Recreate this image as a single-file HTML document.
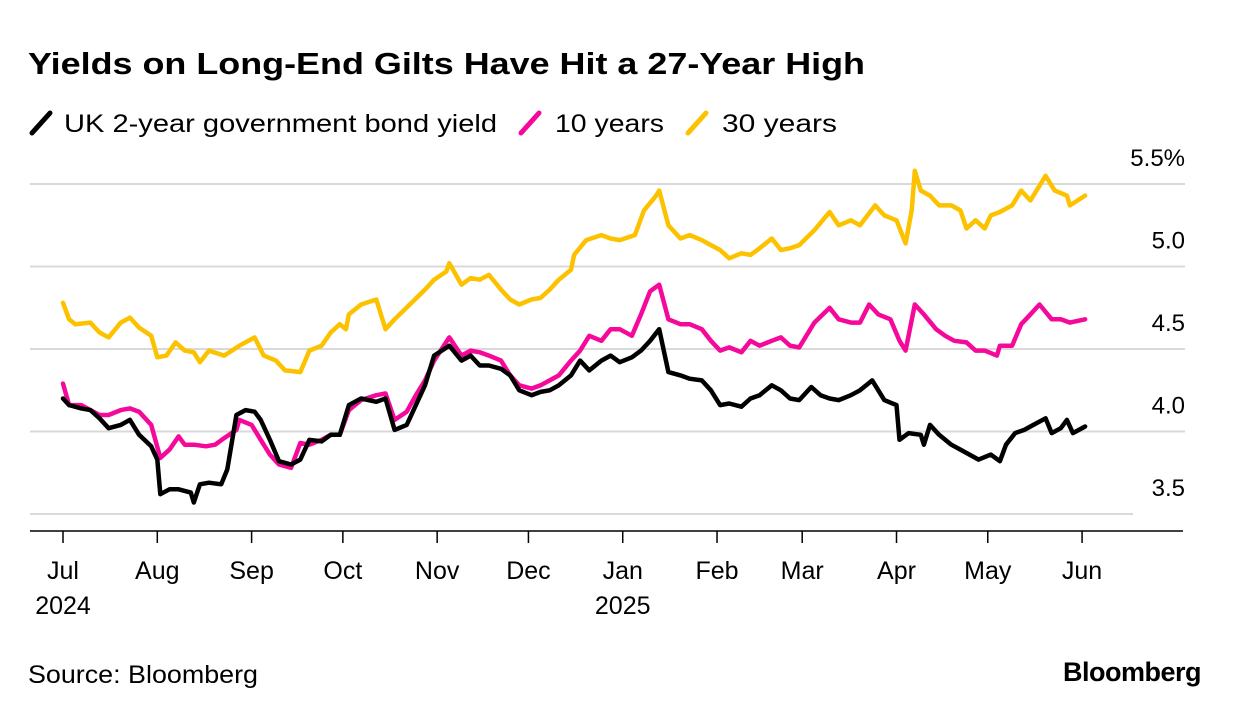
<!DOCTYPE html>
<html><head><meta charset="utf-8"><style>
body{margin:0;background:#fff;width:1240px;height:716px;overflow:hidden;font-family:"Liberation Sans",sans-serif;}
</style></head><body>
<svg width="1240" height="716" xmlns="http://www.w3.org/2000/svg">
<text x="28" y="74" font-size="31" font-weight="bold" fill="#000" textLength="837" lengthAdjust="spacingAndGlyphs">Yields on Long-End Gilts Have Hit a 27-Year High</text>
<g font-size="25" fill="#000">
<line x1="32" y1="133" x2="50" y2="113" stroke="#000" stroke-width="5" stroke-linecap="round"/>
<text x="64" y="132" textLength="433" lengthAdjust="spacingAndGlyphs">UK 2-year government bond yield</text>
<line x1="521" y1="133" x2="539" y2="113" stroke="#f5099b" stroke-width="5" stroke-linecap="round"/>
<text x="555" y="132" textLength="109" lengthAdjust="spacingAndGlyphs">10 years</text>
<line x1="688" y1="133" x2="706" y2="113" stroke="#fcc200" stroke-width="5" stroke-linecap="round"/>
<text x="722" y="132" textLength="115" lengthAdjust="spacingAndGlyphs">30 years</text>
</g>
<g id="grid"></g><g id="series"></g><g id="xaxis"></g>
<text x="28" y="683" font-size="25" textLength="230" lengthAdjust="spacingAndGlyphs">Source: Bloomberg</text>
<text x="1201" y="681" font-size="27" font-weight="bold" text-anchor="end" letter-spacing="-0.5">Bloomberg</text>
</svg>
<script>
const yTicks=[3.5,4.0,4.5,5.0,5.5];
const yTickLabels=["3.5","4.0","4.5","5.0","5.5%"];
const monthDays=[0,31,62,92,123,153,184,215,243,274,304,335];
const monthLabels=["Jul","Aug","Sep","Oct","Nov","Dec","Jan","Feb","Mar","Apr","May","Jun"];
const yearLabels={0:"2024",6:"2025"};
const days30=[0,2,4,9,12,15,19,22,25,29,31,34,37,40,43,45,48,53,58,63,66,70,73,78,81,85,88,91,93,94,98,103,106,109,114,119,122,126,127,131,134,137,140,144,147,150,154,157,160,163,167,168,172,177,180,183,188,191,195,196,199,203,206,210,213,216,219,223,226,229,233,236,239,242,247,252,255,259,262,267,270,274,277,279,280,282,285,288,292,295,297,300,303,305,308,312,315,318,323,326,330,331,336];
const y30=[4.78,4.68,4.65,4.66,4.60,4.57,4.66,4.69,4.63,4.58,4.45,4.46,4.54,4.49,4.48,4.42,4.49,4.46,4.52,4.57,4.46,4.43,4.37,4.36,4.49,4.52,4.60,4.65,4.62,4.71,4.77,4.80,4.62,4.68,4.77,4.86,4.92,4.97,5.02,4.89,4.93,4.92,4.95,4.86,4.80,4.77,4.80,4.81,4.86,4.92,4.98,5.07,5.16,5.19,5.17,5.16,5.19,5.34,5.43,5.46,5.25,5.17,5.19,5.16,5.13,5.10,5.05,5.08,5.07,5.11,5.17,5.10,5.11,5.13,5.22,5.33,5.25,5.28,5.25,5.37,5.31,5.28,5.14,5.34,5.58,5.46,5.43,5.37,5.37,5.34,5.23,5.28,5.23,5.31,5.33,5.37,5.46,5.40,5.55,5.46,5.43,5.37,5.43];
const days10=[0,2,6,9,12,15,19,22,25,29,32,35,38,40,43,47,50,53,57,58,62,65,68,71,75,78,81,85,88,91,94,98,103,106,109,113,116,119,122,127,131,134,137,140,144,147,150,154,157,160,163,167,170,173,177,180,183,187,190,193,196,199,203,206,210,213,216,219,223,226,229,233,236,239,242,247,252,255,259,262,265,268,272,275,277,280,283,287,290,293,297,300,303,307,308,312,315,318,321,325,328,331,336];
const y10=[4.29,4.16,4.16,4.13,4.10,4.10,4.13,4.14,4.12,4.04,3.84,3.89,3.97,3.92,3.92,3.91,3.92,3.96,4.01,4.07,4.04,3.95,3.86,3.80,3.78,3.93,3.92,3.95,3.98,3.98,4.13,4.19,4.22,4.23,4.07,4.12,4.22,4.31,4.43,4.57,4.46,4.49,4.48,4.46,4.43,4.34,4.28,4.26,4.28,4.31,4.34,4.43,4.49,4.58,4.55,4.62,4.62,4.58,4.71,4.85,4.89,4.68,4.65,4.65,4.62,4.55,4.49,4.51,4.48,4.55,4.52,4.55,4.57,4.52,4.51,4.66,4.75,4.68,4.66,4.66,4.77,4.71,4.68,4.55,4.49,4.77,4.71,4.62,4.58,4.55,4.54,4.49,4.49,4.46,4.52,4.52,4.65,4.71,4.77,4.68,4.68,4.66,4.68];
const days2=[0,2,6,9,12,15,19,22,25,29,31,32,35,38,42,43,45,48,52,54,57,60,63,65,68,71,75,78,81,85,88,91,94,98,103,106,109,113,116,119,122,127,131,134,137,140,144,147,150,154,157,160,163,167,170,173,177,180,183,187,190,193,196,199,203,206,210,213,216,219,223,226,229,233,236,239,242,246,249,252,255,259,262,266,270,274,275,278,282,283,285,288,292,295,298,301,305,308,310,313,316,319,323,325,328,330,332,336];
const y2=[4.20,4.16,4.14,4.13,4.08,4.02,4.04,4.07,3.98,3.91,3.83,3.62,3.65,3.65,3.63,3.57,3.68,3.69,3.68,3.77,4.10,4.13,4.12,4.07,3.95,3.82,3.80,3.83,3.95,3.94,3.98,3.98,4.16,4.20,4.18,4.20,4.01,4.04,4.16,4.28,4.46,4.52,4.43,4.46,4.40,4.40,4.38,4.34,4.25,4.22,4.24,4.25,4.28,4.34,4.43,4.37,4.43,4.46,4.42,4.45,4.49,4.55,4.62,4.36,4.34,4.32,4.31,4.25,4.16,4.17,4.15,4.20,4.22,4.28,4.25,4.20,4.19,4.27,4.22,4.20,4.19,4.22,4.25,4.31,4.19,4.16,3.95,3.99,3.98,3.92,4.04,3.98,3.92,3.89,3.86,3.83,3.86,3.82,3.92,3.99,4.01,4.04,4.08,3.99,4.02,4.07,3.99,4.03];
const NS="http://www.w3.org/2000/svg";
const xS=d=>63+d*3.042;
const yS=v=>184+(5.5-v)*165;
function mk(t,a,p){const e=document.createElementNS(NS,t);for(const k in a)e.setAttribute(k,a[k]);p.appendChild(e);return e;}
const grid=document.getElementById('grid');
yTicks.forEach((v,i)=>{
 const ln=mk('line',{x1:30,x2:v===3.5?1133:1185,y1:yS(v),y2:yS(v),stroke:'#d9d9d9','stroke-width':2},grid);
 
 
 const t=mk('text',{x:1185,y:yS(v)-18,'font-size':24,'text-anchor':'end',fill:'#000'},grid);
 t.textContent=yTickLabels[i];
 
 
});
const xa=document.getElementById('xaxis');
const ax=mk('line',{x1:30,x2:1183,y1:531,y2:531,stroke:'#000','stroke-width':1.5},xa);


monthDays.forEach((d,i)=>{
 const tk=mk('line',{x1:xS(d),x2:xS(d),y1:531,y2:543,stroke:'#000','stroke-width':1.5},xa);
 
 
 const t=mk('text',{x:xS(d),y:579,'font-size':25,'text-anchor':'middle'},xa);
 t.textContent=monthLabels[i];
 
 
 if(yearLabels[i]){const y=mk('text',{x:xS(d),y:614,'font-size':25,'text-anchor':'middle'},xa);
 y.textContent=yearLabels[i];
 
 }
});
const sg=document.getElementById('series');
[[days30,y30,'#fcc200','series-30-year'],[days10,y10,'#f5099b','series-10-year'],[days2,y2,'#000','series-2-year']].forEach(s=>{
 const p=s[0].map((d,i)=>(i?'L':'M')+xS(d).toFixed(1)+','+yS(s[1][i]).toFixed(1)).join('');
 const el=mk('path',{d:p,fill:'none',stroke:s[2],'stroke-width':4.5,'stroke-linejoin':'round','stroke-linecap':'round'},sg);
 
 
});
</script>
</body></html>
